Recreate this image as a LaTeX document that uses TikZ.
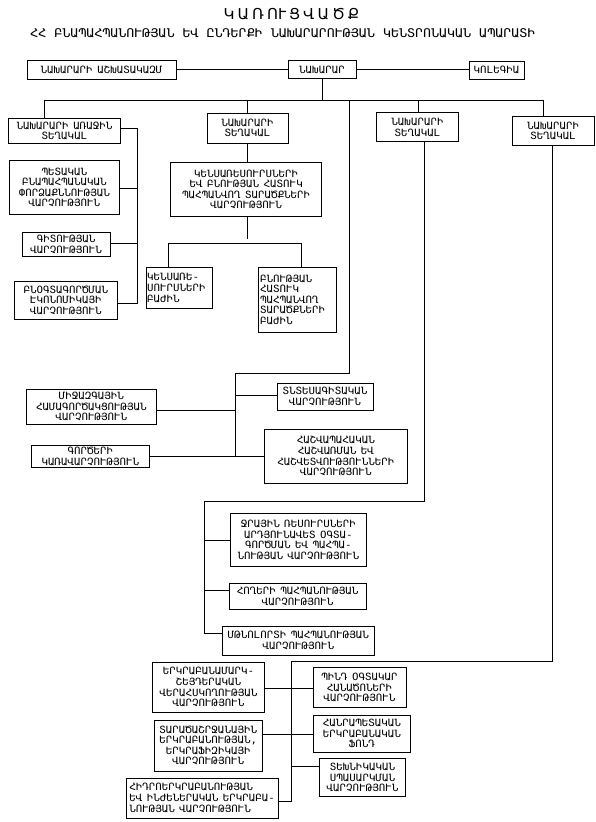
\documentclass[tikz,border=0pt]{standalone}
\usepackage{fontspec}
\setmainfont{DejaVu Sans}
\newfontfamily\monofont{DejaVu Sans Mono}[FakeStretch=1.08, WordSpace=0.7]
\newfontfamily\subfont{DejaVu Sans Mono}[FakeStretch=1.11]
\newcommand\bxfont{\monofont\fontsize{10}{10.6}\selectfont}
\tikzset{
  box/.style={draw, line width=1pt, inner sep=1.5pt, align=center, font=\bxfont},
  lbox/.style={box, align=left},
  conn/.style={line width=1pt},
}
% name, x1, y1, x2, y2, options, text
\newcommand\bx[7]{\node[#6, minimum width={#4-#2}, minimum height={#5-#3}] (#1) at ({(#2+#4)/2},{(#3+#5)/2}) {#7};}
\newcommand\tsp{\hspace{3pt}}
\begin{document}
\begin{tikzpicture}[x=1pt,y=-1pt]
\useasboundingbox[fill=white] (0,0) rectangle (595,822);

\node[inner sep=0pt] (title) at (291.5,14) {\fontsize{15}{15}\selectfont Կ\tsp Ա\tsp Ռ\tsp ՈՒ\tsp Ց\tsp Վ\tsp Ա\tsp Ծ\tsp Ք};
\node[inner sep=0pt, anchor=west] (sub) at (30,33) {\subfont\fontsize{12}{12}\selectfont ՀՀ ԲՆԱՊԱՀՊԱՆՈՒԹՅԱՆ ԵՎ ԸՆԴԵՐՔԻ ՆԱԽԱՐԱՐՈՒԹՅԱՆ ԿԵՆՏՐՈՆԱԿԱՆ ԱՊԱՐԱՏԻ};

\bx{staff}{27}{60}{176}{79}{box}{ՆԱԽԱՐԱՐԻ ԱՇԽԱՏԱԿԱԶՄ}
\bx{min}{288}{60.5}{356}{78.5}{box}{ՆԱԽԱՐԱՐ}
\bx{kol}{469}{61}{524}{79}{box}{ԿՈԼԵԳԻԱ}

\bx{d1}{8.3}{118.3}{120.7}{143.3}{box}{ՆԱԽԱՐԱՐԻ ԱՌԱՋԻՆ\\ՏԵՂԱԿԱԼ}
\bx{d2}{207}{113}{288}{143}{box}{ՆԱԽԱՐԱՐԻ\\ՏԵՂԱԿԱԼ}
\bx{d3}{376.7}{112.7}{458.3}{141.7}{box}{ՆԱԽԱՐԱՐԻ\\ՏԵՂԱԿԱԼ}
\bx{d4}{512.3}{116.7}{594}{145}{box}{ՆԱԽԱՐԱՐԻ\\ՏԵՂԱԿԱԼ}

\bx{pet}{9.3}{160.7}{119.3}{214.3}{box}{ՊԵՏԱԿԱՆ\\ԲՆԱՊԱՀՊԱՆԱԿԱՆ\\ՓՈՐՁԱՔՆՆՈՒԹՅԱՆ\\ՎԱՐՉՈՒԹՅՈՒՆ}
\bx{git}{22.3}{232.3}{110}{256.7}{box}{ԳԻՏՈՒԹՅԱՆ\\ՎԱՐՉՈՒԹՅՈՒՆ}
\bx{bno}{14.3}{281.7}{117.3}{319}{box}{ԲՆՕԳՏԱԳՈՐԾՄԱՆ\\ԷԿՈՆՈՄԻԿԱՅԻ\\ՎԱՐՉՈՒԹՅՈՒՆ}

\bx{ken}{170.7}{162.3}{321.7}{216.7}{box}{ԿԵՆՍԱՌԵՍՈՒՐՍՆԵՐԻ\\ԵՎ ԲՆՈՒԹՅԱՆ ՀԱՏՈՒԿ\\ՊԱՀՊԱՆՎՈՂ ՏԱՐԱԾՔՆԵՐԻ\\ՎԱՐՉՈՒԹՅՈՒՆ}
\bx{kb}{146}{267.7}{212}{308.3}{lbox, inner sep=1pt, text width=64pt}{ԿԵՆՍԱՌԵ-\\ՍՈՒՐՍՆԵՐԻ\\ԲԱԺԻՆ}
\bx{bb}{258.3}{267.3}{336}{332.3}{lbox, text width=74pt}{ԲՆՈՒԹՅԱՆ\\ՀԱՏՈՒԿ\\ՊԱՀՊԱՆՎՈՂ\\ՏԱՐԱԾՔՆԵՐԻ\\ԲԱԺԻՆ}

\bx{mij}{26}{389}{156.7}{424.3}{box}{ՄԻՋԱԶԳԱՅԻՆ\\ՀԱՄԱԳՈՐԾԱԿՑՈՒԹՅԱՆ\\ՎԱՐՉՈՒԹՅՈՒՆ}
\bx{gor}{31.7}{445}{149}{467.3}{box}{ԳՈՐԾԵՐԻ\\ԿԱՌԱՎԱՐՉՈՒԹՅՈՒՆ}
\bx{tnt}{277}{383}{373}{410}{box}{ՏՆՏԵՍԱԳԻՏԱԿԱՆ\\ՎԱՐՉՈՒԹՅՈՒՆ}
\bx{hash}{264.3}{429.3}{407.3}{483.3}{box}{ՀԱՇՎԱՊԱՀԱԿԱՆ\\ՀԱՇՎԱՌՄԱՆ ԵՎ\\ՀԱՇՎԵՏՎՈՒԹՅՈՒՆՆԵՐԻ\\ՎԱՐՉՈՒԹՅՈՒՆ}

\bx{jr}{230.7}{513.3}{366}{566.7}{box}{ՋՐԱՅԻՆ ՌԵՍՈՒՐՍՆԵՐԻ\\ԱՐԴՅՈՒՆԱՎԵՏ ՕԳՏԱ-\\ԳՈՐԾՄԱՆ ԵՎ ՊԱՀՊԱ-\\ՆՈՒԹՅԱՆ ՎԱՐՉՈՒԹՅՈՒՆ}
\bx{hog}{229.3}{583.3}{366}{609.3}{box}{ՀՈՂԵՐԻ ՊԱՀՊԱՆՈՒԹՅԱՆ\\ՎԱՐՉՈՒԹՅՈՒՆ}
\bx{mtn}{222.3}{626}{374.3}{655}{box}{ՄԹՆՈԼՈՐՏԻ ՊԱՀՊԱՆՈՒԹՅԱՆ\\ՎԱՐՉՈՒԹՅՈՒՆ}

\bx{erk}{152.7}{662.3}{264.3}{712.3}{box}{ԵՐԿՐԱԲԱՆԱՄԱՐԿ-\\ՇԵՅԴԵՐԱԿԱՆ\\ՎԵՐԱՀՍԿՈՂՈՒԹՅԱՆ\\ՎԱՐՉՈՒԹՅՈՒՆ}
\bx{pind}{313}{667.7}{406}{707.3}{box}{ՊԻՆԴ ՕԳՏԱԿԱՐ\\ՀԱՆԱԾՈՆԵՐԻ\\ՎԱՐՉՈՒԹՅՈՒՆ}
\bx{tar}{154.5}{720}{262}{771}{box}{ՏԱՐԱԾԱՇՐՋԱՆԱՅԻՆ\\ԵՐԿՐԱԲԱՆՈՒԹՅԱՆ,\\ԵՐԿՐԱՖԻԶԻԿԱՅԻ\\ՎԱՐՉՈՒԹՅՈՒՆ}
\bx{hanr}{313}{715}{410.7}{752.3}{box}{ՀԱՆՐԱՊԵՏԱԿԱՆ\\ԵՐԿՐԱԲԱՆԱԿԱՆ\\ՖՈՆԴ}
\bx{tex}{319.3}{758.3}{405.7}{796.7}{box}{ՏԵԽՆԻԿԱԿԱՆ\\ՍՊԱՍԱՐԿՄԱՆ\\ՎԱՐՉՈՒԹՅՈՒՆ}
\bx{hidr}{126}{778}{278.3}{818}{lbox, inner sep=1pt}{ՀԻԴՐՈԵՐԿՐԱԲԱՆՈՒԹՅԱՆ\\ԵՎ ԻՆԺԵՆԵՐԱԿԱՆ ԵՐԿՐԱԲԱ-\\ՆՈՒԹՅԱՆ ՎԱՐՉՈՒԹՅՈՒՆ}

% junction coordinates
\coordinate (bus1) at (44.3,100);
\coordinate (bus2) at (543.3,100);
\coordinate (v3a) at (418.3,100);
\coordinate (vm) at (349,100);
\coordinate (vmb) at (349,373.3);
\coordinate (vml) at (235.3,373.3);
\coordinate (m1) at (235.3,395.5);
\coordinate (m2) at (235.3,410.5);
\coordinate (m3) at (235.3,456.3);
\coordinate (l1) at (137.7,128.3);
\coordinate (l2) at (137.7,188.3);
\coordinate (l3) at (137.7,243.3);
\coordinate (l4) at (137.7,303);
\coordinate (kgap) at (247.5,239.3);
\coordinate (sb1) at (168.3,243.3);
\coordinate (sb2) at (301.7,243.3);
\coordinate (d3b) at (424,501.7);
\coordinate (d3l) at (204,501.7);
\coordinate (p2) at (204,590.7);
\coordinate (d3lb) at (204,633.3);
\coordinate (d4b) at (552.3,661);
\coordinate (d4l) at (291.7,661);
\coordinate (q1) at (291.7,688);
\coordinate (q2) at (291.7,734);
\coordinate (q3) at (291.7,766);
\coordinate (d4lb) at (291.7,801);

\begin{scope}[conn]
\draw (staff.east) -- (staff.east -| min.west);
\draw (min.east |- staff.east) -- (staff.east -| kol.west);
\draw (min.south) -- (min.south |- bus1);
\draw (bus1) -- (bus2);
\draw (bus1) -- (bus1 |- d1.north);
\draw (d2.north) -- (d2.north |- bus1);
\draw (v3a) -- (v3a |- d3.north);
\draw (bus2) -- (bus2 |- d4.north);
% first deputy
\draw (d1.east |- l1) -- (l1) -- (l4) -- (l4 -| bno.east);
\draw (pet.east |- l2) -- (l2);
\draw (git.east |- l3) -- (l3);
% deputy 2
\draw (d2.south) -- (d2.south |- ken.north);
\draw (ken.south -| kgap) -- (kgap);
\draw (sb1) -- (sb2);
\draw (sb1) -- (sb1 |- kb.north);
\draw (sb2) -- (sb2 |- bb.north);
% minister line
\draw (vm) -- (vmb) -- (vml) -- (m3);
\draw (m1) -- (m1 -| tnt.west);
\draw (mij.east |- m2) -- (m2);
\draw (gor.east |- m3) -- (m3) -- (m3 -| hash.west);
% deputy 3
\draw (d3.south -| d3b) -- (d3b) -- (d3l) -- (d3lb) -- (d3lb -| mtn.west);
\draw (jr.west -| d3l) -- (jr.west);
\draw (p2) -- (p2 -| hog.west);
% deputy 4
\draw (d4.south -| d4b) -- (d4b) -- (d4l) -- (d4lb) -- (d4lb -| hidr.east);
\draw (erk.east |- q1) -- (q1 -| pind.west);
\draw (tar.east |- q2) -- (q2 -| hanr.west);
\draw (q3) -- (q3 -| tex.west);
\end{scope}
\end{tikzpicture}
\end{document}
